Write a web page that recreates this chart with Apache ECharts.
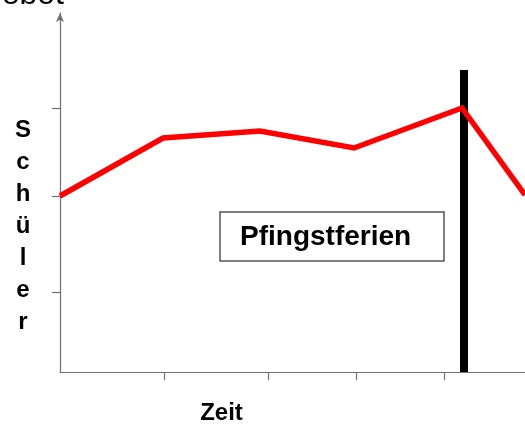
<!DOCTYPE html>
<html>
<head>
<meta charset="utf-8">
<script src="https://cdn.jsdelivr.net/npm/echarts@6/dist/echarts.min.js"></script>
<style>
html,body{margin:0;padding:0;background:#fff;}
#chart{width:525px;height:428px;}
</style>
</head>
<body>
<div id="chart"></div>
<script>
// Data
const timePoints = [0, 10.3, 20.0, 29.4, 40.2, 46.5];
const schueler   = [17.6, 23.4, 24.1, 22.4, 26.4, 17.7];
const xTicks = [10.4, 20.8, 29.6, 38.4];
const yTicks = [8, 17.6, 26.4];
const ferienZeit = [40.4, 40.4];
const ferienHoehe = [0, 30.2];
const xMax = 46.5;
const yMax = 35.9;

const chart = echarts.init(document.getElementById('chart'), null, {renderer: 'canvas'});
const axisColor = '#707070';

chart.setOption({
  animation: false,
  backgroundColor: '#ffffff',
  grid: {left: 60, right: 0, top: 13, bottom: 56, containLabel: false},
  xAxis: {
    type: 'value', min: 0, max: xMax,
    axisLine: {show: true, lineStyle: {color: axisColor, width: 1.2}},
    axisTick: {show: true, length: 8, customValues: xTicks, lineStyle: {color: axisColor, width: 1.2}},
    axisLabel: {show: false},
    splitLine: {show: false}
  },
  yAxis: {
    type: 'value', min: 0, max: yMax,
    axisLine: {show: true, symbol: ['none', 'arrow'], symbolSize: [6, 9], symbolOffset: [0, 0],
      lineStyle: {color: axisColor, width: 1.2}},
    axisTick: {show: true, length: 8, customValues: yTicks, lineStyle: {color: axisColor, width: 1.2}},
    axisLabel: {show: false},
    splitLine: {show: false}
  },
  series: [
    {
      name: 'Pfingstferien',
      type: 'line',
      z: 2,
      symbol: 'none',
      data: ferienZeit.map((x, i) => [x, ferienHoehe[i]]),
      lineStyle: {color: '#000000', width: 8, cap: 'butt'}
    },
    {
      name: 'Schüler',
      type: 'line',
      z: 3,
      symbol: 'none',
      data: timePoints.map((x, i) => [x, schueler[i]]),
      lineStyle: {color: '#ff0000', width: 5.5, join: 'miter'}
    }
  ],
  graphic: [
    {type: 'text', x: 64, y: -4.5, style: {text: 'Angebot', align: 'right', verticalAlign: 'middle',
      font: '32px "Liberation Sans", Arial, sans-serif', fill: '#000'}},
    {type: 'rect', shape: {x: 220, y: 212, width: 224, height: 49},
      style: {fill: '#fff', stroke: '#555', lineWidth: 1.5}, z: 10},
    {type: 'text', x: 240, y: 237, z: 11, style: {text: 'Pfingstferien', align: 'left', verticalAlign: 'middle',
      font: 'bold 28px "Liberation Sans", Arial, sans-serif', fill: '#000'}},
    {type: 'text', x: 221.5, y: 413, style: {text: 'Zeit', align: 'center', verticalAlign: 'middle',
      font: 'bold 24px "Liberation Sans", Arial, sans-serif', fill: '#000'}},
    {type: 'text', x: 23, y: 226, style: {text: 'S\nc\nh\nü\nl\ne\nr', align: 'center', verticalAlign: 'middle',
      lineHeight: 32, font: 'bold 24px "Liberation Sans", Arial, sans-serif', fill: '#000'}}
  ]
});
</script>
</body>
</html>
